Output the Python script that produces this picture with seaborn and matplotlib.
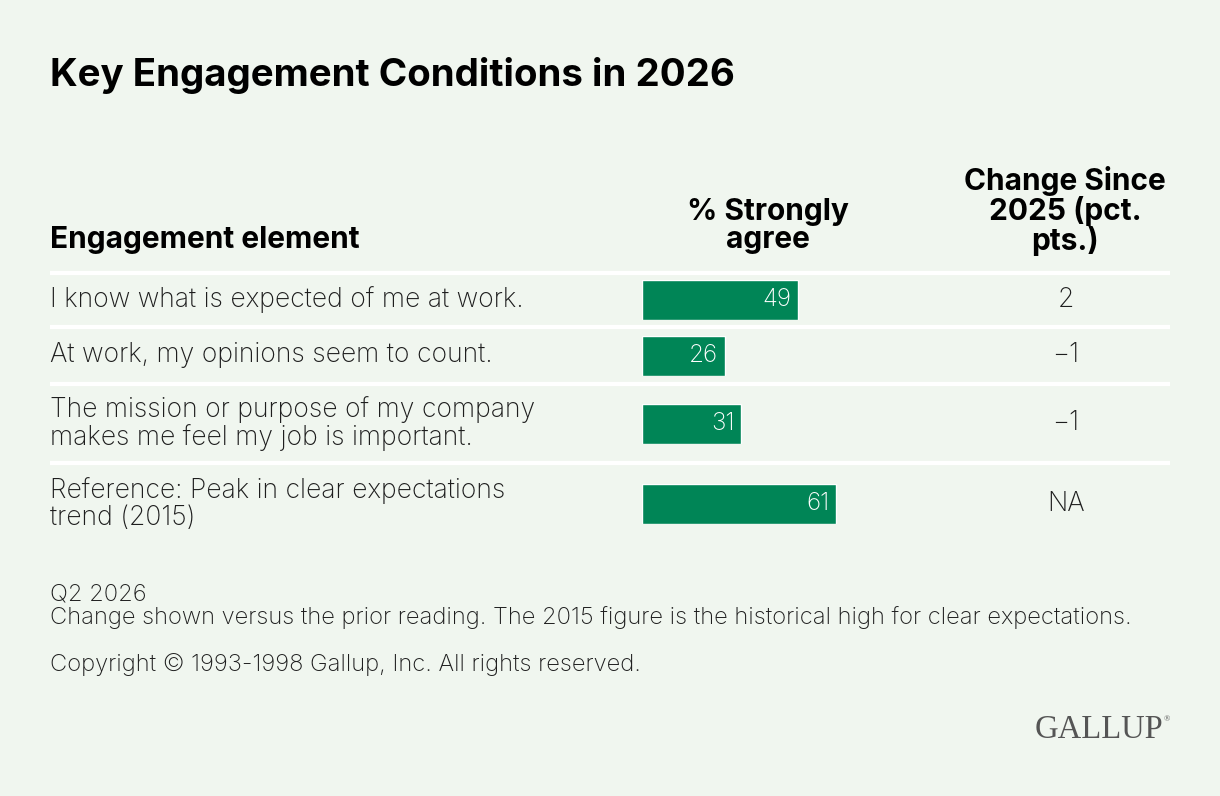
import matplotlib
matplotlib.use("Agg")
import matplotlib.pyplot as plt
import seaborn as sns
import pandas as pd

# data
elements = [
    "I know what is expected of me at work.",
    "At work, my opinions seem to count.",
    "The mission or purpose of my company\nmakes me feel my job is important.",
    "Reference: Peak in clear expectations\ntrend (2015)",
]
strongly_agree = [49, 26, 31, 61]
change_since_2025 = ["2", "\u22121", "\u22121", "NA"]

BG = "#f0f6ef"
GREEN = "#008556"
TEXT = "#1e1e1e"
W, H = 1220, 796

sns.set_theme(style="white")
plt.rcParams["font.family"] = ["Inter", "DejaVu Sans"]

fig = plt.figure(figsize=(W / 100, H / 100), dpi=100, facecolor=BG)

# full-figure axes in pixel coordinates for text and rules
bg = fig.add_axes([0, 0, 1, 1])
bg.set_xlim(0, W)
bg.set_ylim(H, 0)
bg.axis("off")
bg.set_facecolor(BG)

bg.text(50, 75, "Key Engagement Conditions in 2026", fontsize=27.7, fontweight="bold",
        color="black", va="center", ha="left")

hdr = dict(fontsize=21.5, fontweight="bold", color="black", va="center", linespacing=1.0)
bg.text(50, 240, "Engagement element", ha="left", **hdr)
bg.text(768, 226, "% Strongly\nagree", ha="center", **hdr)
bg.text(1065, 211, "Change Since\n2025 (pct.\npts.)", ha="center", **hdr)

# row layout (pixels)
row_edges = [273, 327, 384, 463, 545]
bar_x0, bar_px_per_unit, bar_h = 642, 3.18, 40

for i, (label, val, chg) in enumerate(zip(elements, strongly_agree, change_since_2025)):
    top, bottom = row_edges[i], row_edges[i + 1]
    cy = (top + bottom) / 2
    bg.plot([50, 1170], [top, top], color="white", lw=3, solid_capstyle="butt")
    bg.text(50, cy, label, fontsize=19.1, fontweight="light", color=TEXT,
            va="center", ha="left", linespacing=1.02)
    bg.text(1066, cy, chg, fontsize=19.1, fontweight="light", color=TEXT,
            va="center", ha="center")

    ax = fig.add_axes([bar_x0 / W, 1 - (cy + bar_h / 2) / H,
                       100 * bar_px_per_unit / W, bar_h / H])
    df = pd.DataFrame({"element": [label], "value": [val]})
    sns.barplot(data=df, x="value", y="element", color=GREEN, saturation=1,
                width=1, ax=ax)
    ax.set_xlim(0, 100)
    ax.set_ylim(0.5, -0.5)
    ax.axis("off")
    labels = ax.bar_label(ax.containers[0], padding=-4.5, color="white",
                          fontsize=17.5, fontweight="light")
    for t in labels:
        t.set_ha("right")

foot = dict(fontsize=17.1, fontweight="light", color=TEXT, va="center", ha="left")
bg.text(50, 594, "Q2 2026", **foot)
bg.text(50, 618, "Change shown versus the prior reading. The 2015 figure is the historical "
        "high for clear expectations.", **foot)
bg.text(50, 665, "Copyright \u00a9 1993-1998 Gallup, Inc. All rights reserved.", **foot)

bg.text(1163, 730, "GALLUP", fontsize=23.5, color="#555555", va="center", ha="right",
        family=["Liberation Serif", "DejaVu Serif"])
bg.text(1164, 719, "\u00ae", fontsize=6, color="#555555", va="center", ha="left",
        family=["Liberation Serif", "DejaVu Serif"])

fig.savefig("out.png", dpi=100, facecolor=BG)
